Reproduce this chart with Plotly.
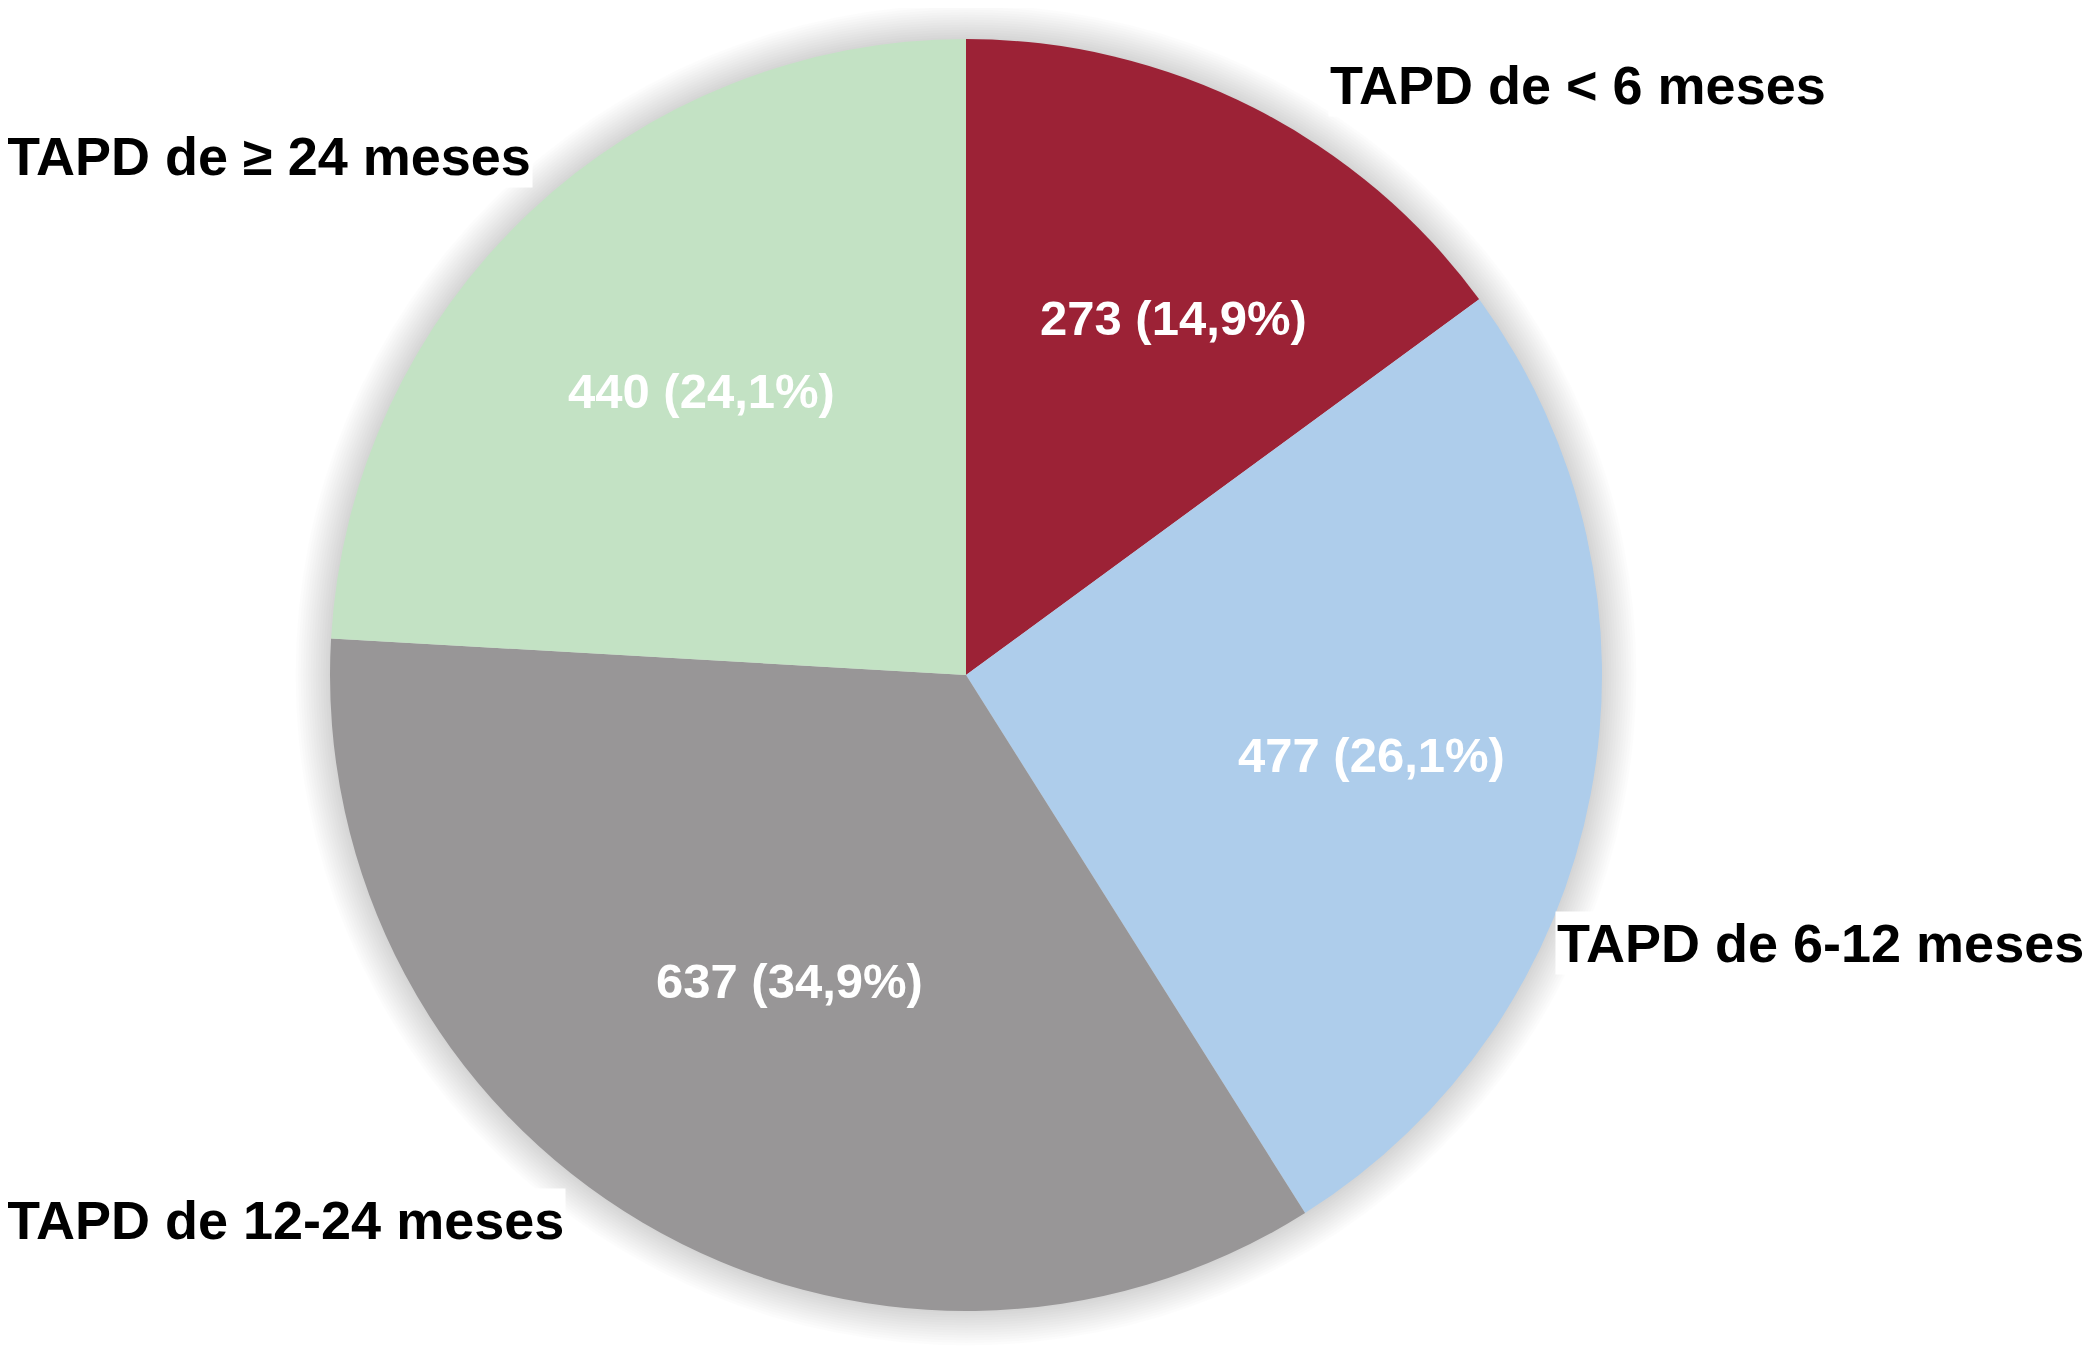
import plotly.graph_objects as go

# slices, clockwise from 12 o'clock
categories = ['TAPD de < 6 meses', 'TAPD de 6-12 meses', 'TAPD de 12-24 meses', 'TAPD de ≥ 24 meses']
counts = [273, 477, 637, 440]
pct_labels = ['14,9%', '26,1%', '34,9%', '24,1%']
colors = ['#9c2236', '#aecdeb', '#989697', '#c3e2c4']

# the page body keeps its default 8px margin, so work in screen pixels and shift
OFF = 8
W, H = 2091 - 2 * OFF, 1354 - 2 * OFF
cx, cy, R = 966, 675, 636  # pie centre / radius, screen pixels


def px(x):
    return (x - OFF) / W


def py(y):
    return 1 - (y - OFF) / H


fig = go.Figure(go.Pie(
    labels=categories,
    values=counts,
    sort=False,
    direction='clockwise',
    rotation=0,
    textinfo='none',
    hoverinfo='label+value+percent',
    marker=dict(colors=colors, line=dict(width=0)),
    domain=dict(x=[px(cx - R), px(cx + R)], y=[py(cy + R), py(cy - R)]),
    showlegend=False,
))

# soft shadow round the pie
for i in range(14):
    r = R + 2 + i * 2.5
    fig.add_shape(type='circle', xref='paper', yref='paper', layer='below',
                  x0=px(cx - r), x1=px(cx + r), y0=py(cy + r), y1=py(cy - r),
                  fillcolor='rgba(0,0,0,0.011)', line_width=0)

# value labels inside the slices
inner_pos = [(1173, 318), (1371, 755), (789, 981), (701, 391)]
for n, p, (lx, ly) in zip(counts, pct_labels, inner_pos):
    fig.add_annotation(x=px(lx), y=py(ly), xref='paper', yref='paper',
                       text=f'{n} ({p})', showarrow=False,
                       xanchor='center', yanchor='middle',
                       font=dict(family='Liberation Sans, Arial', size=49, color='white', weight='bold'))

# category labels outside
label_pos = [(1328, 85), (1555, 943), (5, 1220), (5, 156)]
for name, (lx, ly) in zip(categories, label_pos):
    fig.add_annotation(x=px(lx), y=py(ly), xref='paper', yref='paper',
                       text=name, showarrow=False, xanchor='left', yanchor='middle',
                       bgcolor='white',
                       font=dict(family='Liberation Sans, Arial', size=54, color='black', weight='bold'))

fig.update_layout(
    width=W, height=H,
    margin=dict(l=0, r=0, t=0, b=0),
    paper_bgcolor='white',
    plot_bgcolor='white',
)

fig.write_html("out.html")
